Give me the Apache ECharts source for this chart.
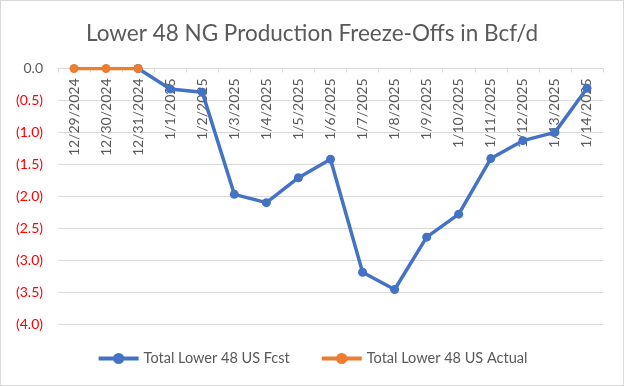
<!DOCTYPE html>
<html><head><meta charset="utf-8">
<script src="https://cdn.jsdelivr.net/npm/echarts@6/dist/echarts.min.js"></script>
<style>html,body{margin:0;padding:0;background:#fff}#c{width:624px;height:386px;box-sizing:border-box;border:1px solid #d9d9d9}</style>
</head><body><div id="c"></div>
<script>
const categories = ['12/29/2024','12/30/2024','12/31/2024','1/1/2025','1/2/2025','1/3/2025','1/4/2025','1/5/2025','1/6/2025','1/7/2025','1/8/2025','1/9/2025','1/10/2025','1/11/2025','1/12/2025','1/13/2025','1/14/2025'];
const fcst = [null,null,0,-0.32,-0.37,-1.97,-2.10,-1.71,-1.42,-3.19,-3.46,-2.64,-2.28,-1.41,-1.13,-1.00,-0.31];
const actual = [0,0,0,null,null,null,null,null,null,null,null,null,null,null,null,null,null];
const yMin = -4, yMax = 0, yStep = 0.5;
const FONT = 'Lato';
const chart = echarts.init(document.getElementById('c'));
chart.setOption({
  animation:false,
  title:{text:'Lower 48 NG Production Freeze-Offs in Bcf/d',left:'center',top:16,textStyle:{fontFamily:FONT,fontSize:22.5,fontWeight:'normal',color:'#595959'}},
  grid:{left:57,right:20,top:67.5,bottom:61},
  legend:{bottom:14,left:'center',itemGap:30,itemWidth:40,itemHeight:14,
    lineStyle:{width:4},
    textStyle:{fontFamily:FONT,fontSize:14.5,color:'#595959'},
    data:['Total Lower 48 US Fcst','Total Lower 48 US Actual']},
  xAxis:{type:'category',data:categories,boundaryGap:true,position:'top',
    axisLine:{lineStyle:{color:'#d9d9d9',width:1}},
    axisTick:{show:true,inside:true,length:4,lineStyle:{color:'#d9d9d9'}},
    axisLabel:{inside:true,rotate:90,interval:0,margin:10,fontFamily:FONT,fontSize:14,color:'#595959'}},
  yAxis:{type:'value',min:yMin,max:yMax,interval:yStep,
    axisLine:{show:false},axisTick:{show:false},
    splitLine:{lineStyle:{color:'#d9d9d9',width:1}},
    axisLabel:{margin:15,fontFamily:FONT,fontSize:14,
      formatter:v=>v<0?'{n|('+Math.abs(v).toFixed(1)+')}':'{p|'+Math.abs(v).toFixed(1)+'}',
      rich:{n:{color:'#ff0000',fontFamily:FONT,fontSize:14},p:{color:'#595959',fontFamily:FONT,fontSize:14}}}},
  series:[
    {name:'Total Lower 48 US Fcst',type:'line',data:fcst,connectNulls:false,symbol:'circle',symbolSize:9,
      lineStyle:{color:'#4472C4',width:3.5},itemStyle:{color:'#4472C4'},z:2},
    {name:'Total Lower 48 US Actual',type:'line',data:actual,symbol:'circle',symbolSize:9,
      lineStyle:{color:'#ED7D31',width:3.5},itemStyle:{color:'#ED7D31'},z:3}
  ]
});
</script></body></html>
